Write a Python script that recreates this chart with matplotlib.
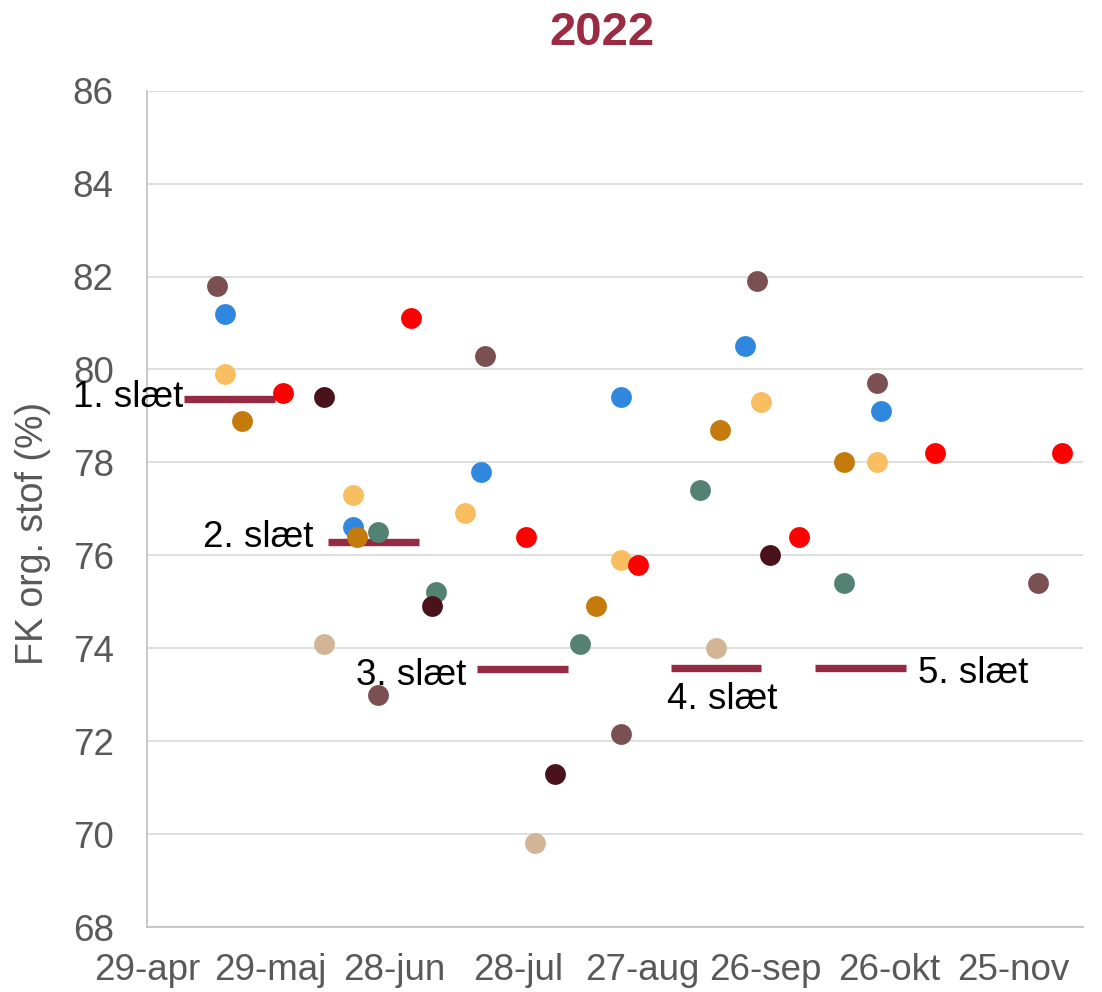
import datetime as dt
import matplotlib
matplotlib.use('Agg')
import matplotlib.pyplot as plt
plt.rcParams['font.family'] = ['Liberation Sans', 'DejaVu Sans']


def d(s):
    return dt.datetime.strptime(s + '-2022', '%d-%m-%Y')


# data
brown_x = ['16-05', '24-06', '20-07', '22-08', '24-09', '23-10', '01-12']
brown_y = [81.8, 73.0, 80.3, 72.15, 81.9, 79.7, 75.4]
blue_x = ['18-05', '18-06', '19-07', '22-08', '21-09', '24-10']
blue_y = [81.2, 76.6, 77.8, 79.4, 80.5, 79.1]
lorange_x = ['18-05', '18-06', '15-07', '22-08', '25-09', '23-10']
lorange_y = [79.9, 77.3, 76.9, 75.9, 79.3, 78.0]
dorange_x = ['22-05', '19-06', '16-08', '15-09', '15-10']
dorange_y = [78.9, 76.4, 74.9, 78.7, 78.0]
red_x = ['01-06', '02-07', '30-07', '26-08', '04-10', '06-11', '07-12']
red_y = [79.5, 81.1, 76.4, 75.8, 76.4, 78.2, 78.2]
maroon_x = ['11-06', '07-07', '06-08', '27-09']
maroon_y = [79.4, 74.9, 71.3, 76.0]
tan_x = ['11-06', '01-08', '14-09']
tan_y = [74.1, 69.8, 74.0]
teal_x = ['24-06', '08-07', '12-08', '10-09', '15-10']
teal_y = [76.5, 75.2, 74.1, 77.4, 75.4]

# slæt averages
cut_labels = ['1. slæt', '2. slæt', '3. slæt', '4. slæt', '5. slæt']
cut_start = ['08-05', '12-06', '18-07', '03-09', '08-10']
cut_end = ['30-05', '04-07', '09-08', '25-09', '30-10']
cut_y = [79.36, 76.28, 73.56, 73.58, 73.57]

tick_dates = ['29-04', '29-05', '28-06', '28-07', '27-08', '26-09', '26-10', '25-11']
tick_labels = ['29-apr', '29-maj', '28-jun', '28-jul', '27-aug', '26-sep', '26-okt', '25-nov']
x_min, x_max = '29-04', '12-12'

series = [
    (teal_x, teal_y, '#538273'),
    (blue_x, blue_y, '#2F88DD'),
    (lorange_x, lorange_y, '#F8BE60'),
    (brown_x, brown_y, '#7B5053'),
    (tan_x, tan_y, '#D2B596'),
    (red_x, red_y, '#FF0000'),
    (maroon_x, maroon_y, '#4A131B'),
    (dorange_x, dorange_y, '#C57A0C'),
]

grey = '#595959'
line_col = '#962A42'

fig = plt.figure(figsize=(11.02, 9.92), dpi=100)
ax = fig.add_axes([0.1334, 0.0655, 0.8494, 0.8431])

for xs, ys, c in series:
    ax.plot([d(s) for s in xs], ys, 'o', ms=15, color=c, mec='none', zorder=3)

# label offsets in pixels (dx, dy) and alignment
lab_pos = [(-1, -8, 'right', 'start'), (-15, -5, 'right', 'start'),
           (-11, -16, 'right', 'start'), (6, -41, 'center', 'mid'),
           (12, -15, 'left', 'end')]
for lab, s, e, y, (dx, dy, ha, where) in zip(cut_labels, cut_start, cut_end, cut_y, lab_pos):
    x0, x1 = d(s), d(e)
    ax.plot([x0, x1], [y, y], color=line_col, lw=5.3, solid_capstyle='butt', zorder=2)
    if where == 'start':
        xa = x0
    elif where == 'end':
        xa = x1
    else:
        xa = x0 + (x1 - x0) / 2
    ax.annotate(lab, (xa, y), xytext=(dx, dy), textcoords='offset pixels',
                ha=ha, va='baseline', fontsize=26.5, color='black', zorder=4)

ax.set_xlim(d(x_min), d(x_max))
ax.set_ylim(68, 86)
ax.set_yticks(range(68, 87, 2))
ax.set_xticks([d(s) for s in tick_dates])
ax.set_xticklabels(tick_labels)
ax.tick_params(axis='both', length=0, labelsize=26.5, labelcolor=grey)
ax.tick_params(axis='y', pad=24)
ax.tick_params(axis='x', pad=19)
ax.grid(axis='y', color='#D9D9D9', lw=1.2, zorder=0)
ax.set_axisbelow(True)
for sp in ['top', 'right']:
    ax.spines[sp].set_visible(False)
for sp in ['left', 'bottom']:
    ax.spines[sp].set_color('#BFBFBF')
    ax.spines[sp].set_linewidth(1.2)

fig.text(602 / 1102, 1 - 45 / 992, '2022', ha='center', va='baseline',
         fontsize=34, fontweight='bold', color='#9B2A43')
fig.text(33 / 1102, 1 - 533 / 992, 'FK org. stof (%)', rotation=90,
         ha='center', va='center', fontsize=27, color=grey)

fig.savefig('out.png', dpi=100)
